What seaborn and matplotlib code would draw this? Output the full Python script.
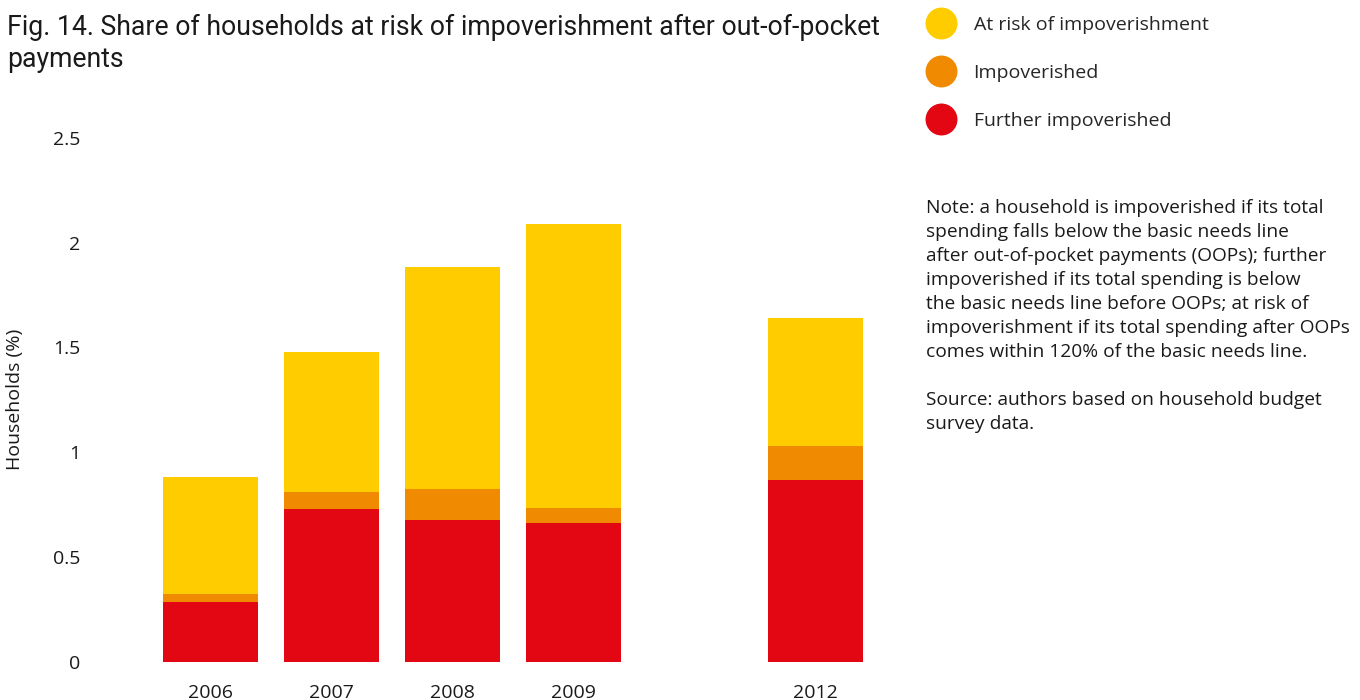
import matplotlib
matplotlib.use("Agg")
import matplotlib.pyplot as plt
from matplotlib.lines import Line2D
import seaborn as sns
import pandas as pd

years = ["2006", "2007", "2008", "2009", "2012"]
further_impoverished = [0.285, 0.729, 0.676, 0.662, 0.867]
impoverished = [0.038, 0.081, 0.148, 0.072, 0.163]
at_risk = [0.559, 0.668, 1.060, 1.355, 0.611]

order = ["2006", "2007", "2008", "2009", "gap", "2012"]
tick_labels = ["2006", "2007", "2008", "2009", "", "2012"]
yticks = [0, 0.5, 1, 1.5, 2, 2.5]
ytick_labels = ["0", "0.5", "1", "1.5", "2", "2.5"]

series_names = ["At risk of impoverishment", "Impoverished", "Further impoverished"]
colors = ["#FFCC00", "#F08A00", "#E30613"]

sns.set_theme(style="white")
plt.rcParams["font.family"] = ["Open Sans", "DejaVu Sans"]

df = pd.DataFrame({
    "year": years,
    "red": further_impoverished,
    "orange": impoverished,
    "yellow": at_risk,
})
df["top_red"] = df["red"]
df["top_orange"] = df["red"] + df["orange"]
df["top_yellow"] = df["top_orange"] + df["yellow"]

W, H = 13.6, 7.0
fig = plt.figure(figsize=(W, H), dpi=100)
ax = fig.add_axes([100 / 1360, (700 - 661.7) / 700, 780 / 1360, (661.7 - 138) / 700])

for col, c in zip(["top_yellow", "top_orange", "top_red"], colors):
    sns.barplot(data=df, x="year", y=col, order=order, color=c, width=0.785,
                saturation=1, ax=ax, linewidth=0, edgecolor="none")

ax.set_xlim(-(210.5 - 100) / 121, (880 - 210.5) / 121)
ax.set_ylim(0, 2.5)
ax.set_yticks(yticks)
ax.set_yticklabels(ytick_labels, fontsize=14, color="#1a1a1a")
ax.set_xticks(range(len(order)))
ax.set_xticklabels(tick_labels, fontsize=14, color="#1a1a1a")
ax.tick_params(axis="y", length=0, pad=14)
ax.tick_params(axis="x", length=0, pad=16)
ax.set_xlabel("")
ax.set_ylabel("Households (%)", fontsize=14, color="#1a1a1a", labelpad=21)
for s in ax.spines.values():
    s.set_visible(False)
ax.grid(False)

fig.text(7 / 1360, 1 - 14 / 700,
         "Fig. 14. Share of households at risk of impoverishment after out-of-pocket\npayments",
         fontsize=19.2, color="#1a1a1a", va="top", ha="left", linespacing=1.25,
         family=["Roboto", "DejaVu Sans"])

handles = [Line2D([0], [0], marker="o", linestyle="none", markersize=23,
                  markerfacecolor=c, markeredgecolor="none") for c in colors]
fig.legend(handles, series_names, loc="upper left",
           bbox_to_anchor=(921 / 1360, 1 - 8 / 700), frameon=False,
           fontsize=14, labelspacing=1.55, handlelength=1.3, handletextpad=1.0,
           borderaxespad=0)

note = ("Note: a household is impoverished if its total\n"
        "spending falls below the basic needs line\n"
        "after out-of-pocket payments (OOPs); further\n"
        "impoverished if its total spending is below\n"
        "the basic needs line before OOPs; at risk of\n"
        "impoverishment if its total spending after OOPs\n"
        "comes within 120% of the basic needs line.\n"
        "\n"
        "Source: authors based on household budget\n"
        "survey data.")
fig.text(926 / 1360, 1 - 199 / 700, note, fontsize=13.8, color="#1a1a1a",
         va="top", ha="left", linespacing=1.43)

fig.savefig("out.png", dpi=100)
